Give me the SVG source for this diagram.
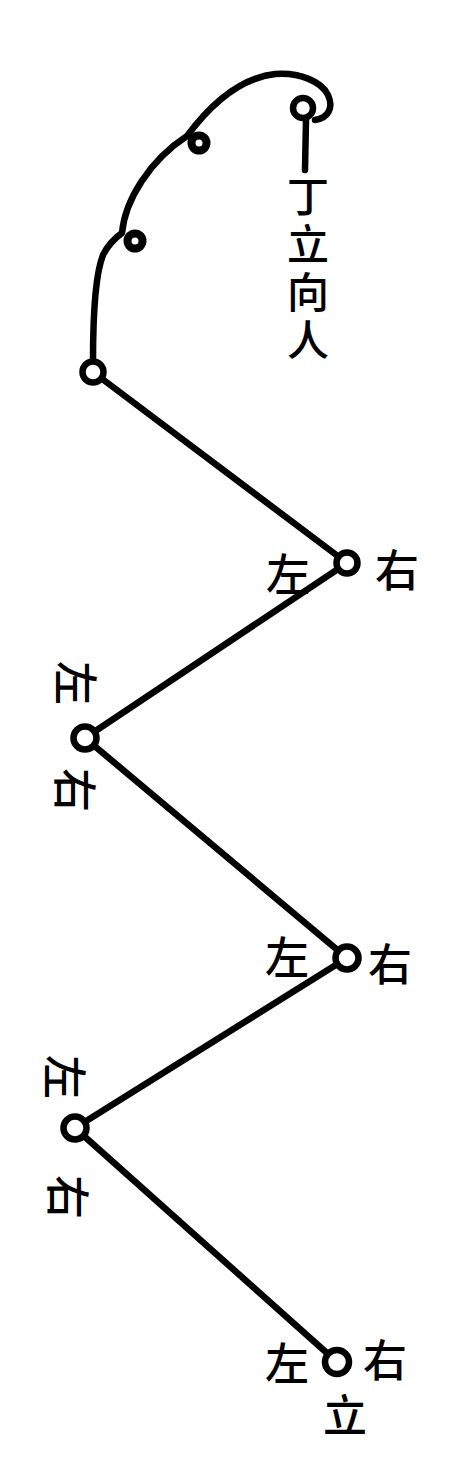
<svg xmlns="http://www.w3.org/2000/svg" width="456" height="1467" viewBox="0 0 456 1467">
<style>
.ln{fill:none;stroke:#000;stroke-width:6.5;stroke-linecap:round;stroke-linejoin:round}
.nd{fill:#fff;stroke:#000;stroke-width:6.5}
.lp{fill:none;stroke:#000;stroke-width:8}
.t{font-family:"Noto Sans CJK SC","Noto Sans CJK JP",sans-serif;font-size:44px;font-weight:500;fill:#000;text-anchor:middle;dominant-baseline:central}
.v{font-family:"Noto Sans CJK SC","Noto Sans CJK JP",sans-serif;font-size:42px;font-weight:500;fill:#000;writing-mode:vertical-rl;text-orientation:upright;letter-spacing:6px}
</style>
<rect width="456" height="1467" fill="#fff"/>
<g id="connectors">
<path class="ln" d="M93,361 C93,320 95,275 103,255 C108,245 115,238 122,233 C125,200 150,160 187,136 C210,105 240,78 275,74 C300,72 322,82 328,95 C334,108 328,118 315,120"/>
<path class="ln" d="M306,120 L305,170"/>
<line class="ln" x1="93" y1="372" x2="347" y2="563"/>
<line class="ln" x1="347" y1="563" x2="85" y2="738"/>
<line class="ln" x1="85" y1="738" x2="347" y2="958"/>
<line class="ln" x1="347" y1="958" x2="75" y2="1128"/>
<line class="ln" x1="75" y1="1128" x2="337" y2="1362"/>
</g>
<g id="loop1"><circle class="lp" cx="135" cy="241" r="7.5"/></g>
<g id="loop2"><circle class="lp" cx="199" cy="143" r="7.5"/></g>
<g id="start">
<circle class="nd" cx="303" cy="108" r="10"/>
<text class="v" x="308" y="175">丁立向人</text>
</g>
<g id="n1"><circle class="nd" cx="93" cy="372" r="10.5"/></g>
<g id="n2">
<circle class="nd" cx="347" cy="563" r="10.5"/>
<text class="t" x="288" y="572">左</text>
<text class="t" x="397" y="568">右</text>
</g>
<g id="n3">
<circle class="nd" cx="85" cy="738" r="11.5"/>
<text class="t" transform="translate(78,683) rotate(90)">左</text>
<text class="t" transform="translate(77,790) rotate(90)">右</text>
</g>
<g id="n4">
<circle class="nd" cx="347" cy="958" r="11.5"/>
<text class="t" x="287" y="955">左</text>
<text class="t" x="390" y="962">右</text>
</g>
<g id="n5">
<circle class="nd" cx="75" cy="1128" r="11.5"/>
<text class="t" transform="translate(67,1077) rotate(90)">左</text>
<text class="t" transform="translate(70,1197) rotate(90)">右</text>
</g>
<g id="n6">
<circle class="nd" cx="337" cy="1362" r="12"/>
<text class="t" x="287" y="1361">左</text>
<text class="t" x="385" y="1358">右</text>
<text class="t" x="345" y="1413">立</text>
</g>
</svg>
